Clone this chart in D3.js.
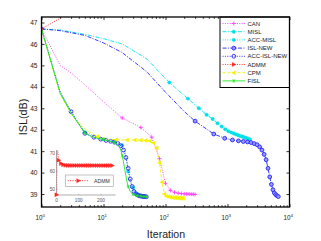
<!DOCTYPE html>
<html><head><meta charset="utf-8">
<script src="https://cdn.jsdelivr.net/npm/d3@7"></script>
<style>body{margin:0;background:#fff}svg{display:block;font-family:"Liberation Sans",Arial,sans-serif}</style>
</head><body><svg id="c" width="321" height="241"></svg>
<script>
// ---------- data ----------
const xTickVals = [1, 10, 100, 1000, 10000];
const xTickExp = ["0", "1", "2", "3", "4"];
const yTickVals = [39, 40, 41, 42, 43, 44, 45, 46, 47];
const insetXTicks = [0, 100, 200];
const insetYTicks = [50, 60, 70];

const canIter = [1, 2, 3, 5, 10, 20, 40, 60, 80, 100, 120, 140, 160, 180, 200, 220, 240, 260, 280, 300];
const canVal  = [46.7, 45.0, 44.65, 44.1, 43.3, 42.55, 42.1, 41.65, 40.65, 39.5, 39.17, 39.08, 39.04, 39.02, 39.01, 39.0, 39.0, 38.99, 38.99, 38.98];

const mislIter = [1, 2, 5, 10, 20, 50, 115, 230, 345, 460, 575, 690, 805, 920, 1035, 1150, 1265, 1380, 1495, 1610, 1725, 1840, 1955, 2070, 2185, 2300];
const mislVal  = [46.7, 46.65, 46.45, 46.25, 46.0, 45.3, 44.2, 43.45, 43.0, 42.7, 42.5, 42.3, 42.15, 42.02, 41.93, 41.87, 41.82, 41.78, 41.74, 41.71, 41.68, 41.65, 41.62, 41.6, 41.57, 41.55];

const accMislIter = [1, 2, 3, 5, 10, 15, 20, 22, 24, 25, 27, 30, 32, 35, 40, 45];
const accMislVal  = [46.7, 43.75, 42.85, 41.88, 41.56, 41.44, 41.28, 41.05, 40.45, 40.05, 39.55, 39.3, 39.12, 39.0, 38.93, 38.9];

const islNewIter = [1, 2, 5, 10, 20, 50, 100, 200, 300, 600, 900, 1200, 1500, 1800, 2100, 2400, 2700, 3000, 3300, 3600, 3900, 4200, 4500, 4800, 5100, 5400, 5700, 6000, 6300, 6600];
const islNewVal  = [46.7, 46.62, 46.4, 46.05, 45.6, 44.7, 43.75, 42.85, 42.4, 41.8, 41.6, 41.52, 41.48, 41.45, 41.43, 41.4, 41.35, 41.3, 41.2, 41.05, 40.85, 40.6, 40.2, 39.8, 39.45, 39.2, 39.05, 38.97, 38.92, 38.88];

const accIslNewIter = [1, 2, 3, 5, 7, 9, 11, 13, 15, 17, 19, 21, 23, 25, 27, 29, 31, 33, 35, 37, 39, 41, 43, 45, 47, 49];
const accIslNewVal  = [46.7, 43.75, 42.84, 41.83, 41.65, 41.56, 41.5, 41.46, 41.42, 41.36, 41.25, 41.05, 40.7, 40.2, 39.7, 39.35, 39.12, 39.02, 38.96, 38.93, 38.91, 38.9, 38.89, 38.88, 38.88, 38.87];

const admmIter = [0, 1, 2, 10, 20, 30, 40, 50, 60, 70, 80, 90, 100, 110, 120, 130, 140, 150, 160, 170, 180, 190, 200, 210, 220, 230, 240, 250];
const admmVal  = [46.7, 47.2, 75, 66.2, 64.3, 63.6, 63.35, 63.25, 63.2, 63.2, 63.2, 63.2, 63.2, 63.2, 63.2, 63.2, 63.2, 63.2, 63.15, 63.15, 63.15, 63.15, 63.15, 63.15, 63.15, 63.15, 63.15, 63.15];

const cpmIter = [1, 2, 3, 4, 5, 6, 8, 12, 16, 24, 32, 40, 48, 56, 64, 72, 80, 88, 96, 104, 112, 120, 128, 136, 144, 152, 160, 168, 176, 184, 192];
const cpmVal  = [46.7, 43.65, 42.75, 42.3, 42.05, 41.88, 41.68, 41.56, 41.53, 41.52, 41.52, 41.51, 41.5, 41.47, 41.38, 41.15, 40.45, 39.55, 39.0, 38.9, 38.87, 38.85, 38.84, 38.83, 38.83, 38.82, 38.82, 38.81, 38.81, 38.8, 38.8];

const fislIter = [1, 2, 3, 4, 5, 6, 7, 8, 10, 12, 15, 17, 18, 19, 20, 21, 22, 23, 24, 25, 27, 30, 35, 40, 45, 50];
const fislVal  = [46.7, 43.7, 42.78, 42.25, 41.85, 41.72, 41.65, 41.6, 41.54, 41.48, 41.4, 41.3, 41.2, 41.05, 40.8, 40.5, 40.15, 39.85, 39.55, 39.35, 39.12, 38.98, 38.92, 38.9, 38.88, 38.87];

// ---------- setup ----------
const svg = d3.select("#c");
const L = 41.5, R = 289.5, T = 17, B = 207;
const x = d3.scaleLog().domain([1, 1e4]).range([L, R]);
const y = d3.scaleLinear().domain([38.395, 47.257]).range([B, T]);

const series = [
  {name: "CAN", it: canIter, v: canVal, color: "#ff3cff", dash: "1,1.4", marker: "plus", every: 20, off: 0},
  {name: "MISL", it: mislIter, v: mislVal, color: "#00e0e8", dash: "4,1.4,1,1.4", marker: "dot", every: 115, off: 0},
  {name: "ACC-MISL", it: accMislIter, v: accMislVal, color: "#00e0e8", dash: "1,1.4", marker: "dot", every: 5, off: 0},
  {name: "ISL-NEW", it: islNewIter, v: islNewVal, color: "#2626ff", dash: "4,1.4,1,1.4", marker: "ringf", every: 300, off: 0},
  {name: "ACC-ISL-NEW", it: accIslNewIter, v: accIslNewVal, color: "#2626ff", dash: "1,1.4", marker: "ring", every: 2, off: 1},
  {name: "ADMM", it: admmIter.map(k => k + 1), v: admmVal, color: "#ff2020", dash: "1,1.4", marker: "trir", every: 10, off: 1},
  {name: "CPM", it: cpmIter, v: cpmVal, color: "#f2f200", dash: "3,2", marker: "tril", every: 8, off: 0},
  {name: "FISL", it: fislIter, v: fislVal, color: "#1ee61e", dash: null, marker: "star", every: 5, off: 0}
];

function drawMarker(g, type, color, cx, cy) {
  if (type === "plus") {
    g.append("path").attr("d", `M${cx-2},${cy}H${cx+2}M${cx},${cy-2}V${cy+2}`)
      .attr("stroke", color).attr("stroke-width", 0.9).attr("fill", "none");
  } else if (type === "dot") {
    g.append("circle").attr("cx", cx).attr("cy", cy).attr("r", 1.7)
      .attr("fill", color).attr("stroke", color).attr("stroke-width", 0.4);
  } else if (type === "ring") {
    g.append("circle").attr("cx", cx).attr("cy", cy).attr("r", 1.9)
      .attr("fill", "none").attr("stroke", color).attr("stroke-width", 0.9);
  } else if (type === "ringf") {
    g.append("circle").attr("cx", cx).attr("cy", cy).attr("r", 1.9)
      .attr("fill", "#9a9aff").attr("stroke", color).attr("stroke-width", 0.9);
  } else if (type === "trir") {
    g.append("path").attr("d", `M${cx+2.2},${cy}L${cx-1.6},${cy-2}L${cx-1.6},${cy+2}Z`)
      .attr("fill", color).attr("stroke", color).attr("stroke-width", 0.4);
  } else if (type === "tril") {
    g.append("path").attr("d", `M${cx-2.2},${cy}L${cx+1.6},${cy-2}L${cx+1.6},${cy+2}Z`)
      .attr("fill", color).attr("stroke", color).attr("stroke-width", 0.4);
  } else if (type === "star") {
    g.append("path").attr("d", `M${cx-1.4},${cy-1.4}L${cx+1.4},${cy+1.4}M${cx-1.4},${cy+1.4}L${cx+1.4},${cy-1.4}M${cx},${cy-1.7}V${cy+1.7}`)
      .attr("stroke", color).attr("stroke-width", 0.7).attr("fill", "none");
  }
}

// clip
const defs = svg.append("defs");
defs.append("clipPath").attr("id", "clipMain").append("rect")
  .attr("x", L).attr("y", T).attr("width", R - L).attr("height", B - T);

const plot = svg.append("g").attr("clip-path", "url(#clipMain)");
const line = d3.line().x(d => x(d[0])).y(d => y(d[1]));

series.forEach(s => {
  const pts = s.it.map((t, i) => [t, s.v[i]]);
  const p = plot.append("path").datum(pts).attr("d", line)
    .attr("fill", "none").attr("stroke", s.color).attr("stroke-width", 0.9);
  if (s.dash) p.attr("stroke-dasharray", s.dash);
  const mg = plot.append("g");
  pts.forEach(d => {
    if ((d[0] - s.off) % s.every === 0) drawMarker(mg, s.marker, s.color, x(d[0]), y(d[1]));
  });
});

// ---------- axes ----------
const minorTicks = [];
for (let e = 0; e < 4; e++) for (let m = 2; m <= 9; m++) minorTicks.push(m * Math.pow(10, e));

function styleAxis(g) {
  g.select(".domain").remove();
  g.selectAll("line").attr("stroke", "#000").attr("stroke-width", 0.8);
}
svg.append("g").attr("transform", `translate(0,${B})`)
  .call(d3.axisBottom(x).tickValues(xTickVals).tickSizeInner(-3).tickSizeOuter(0).tickFormat(""))
  .call(styleAxis);
svg.append("g").attr("transform", `translate(0,${B})`)
  .call(d3.axisBottom(x).tickValues(minorTicks).tickSizeInner(-1.8).tickSizeOuter(0).tickFormat(""))
  .call(styleAxis);
svg.append("g").attr("transform", `translate(0,${T})`)
  .call(d3.axisTop(x).tickValues(xTickVals).tickSizeInner(-3).tickSizeOuter(0).tickFormat(""))
  .call(styleAxis);
svg.append("g").attr("transform", `translate(0,${T})`)
  .call(d3.axisTop(x).tickValues(minorTicks).tickSizeInner(-1.8).tickSizeOuter(0).tickFormat(""))
  .call(styleAxis);

const yAxL = svg.append("g").attr("transform", `translate(${L},0)`)
  .call(d3.axisLeft(y).tickValues(yTickVals).tickSizeInner(-3).tickSizeOuter(0).tickPadding(4).tickFormat(d3.format("d")))
  .call(styleAxis);
yAxL.selectAll("text").attr("font-size", 6.6).attr("fill", "#222")
  .attr("font-family", "Liberation Sans, Arial, sans-serif");
svg.append("g").attr("transform", `translate(${R},0)`)
  .call(d3.axisRight(y).tickValues(yTickVals).tickSizeInner(-3).tickSizeOuter(0).tickFormat(""))
  .call(styleAxis);

// x tick labels 10^n
xTickVals.forEach((t, i) => {
  const tx = svg.append("text").attr("x", x(t) - 1.2).attr("y", 219.5)
    .attr("text-anchor", "middle").attr("font-size", 6.3).attr("fill", "#222");
  tx.append("tspan").text("10");
  tx.append("tspan").attr("dy", -3).attr("font-size", 4.4).text(xTickExp[i]);
});

// axis titles
svg.append("text").attr("x", 166).attr("y", 237.5).attr("text-anchor", "middle")
  .attr("font-size", 10.6).attr("fill", "#222").text("Iteration");
svg.append("text").attr("transform", "translate(26.5,117) rotate(-90)").attr("text-anchor", "middle")
  .attr("font-size", 10.8).attr("fill", "#222").text("ISL(dB)");

// ---------- legend ----------
const lg = svg.append("g");
lg.append("rect").attr("x", 220).attr("y", T).attr("width", R - 220).attr("height", 70.5)
  .attr("fill", "#fff").attr("stroke", "#000").attr("stroke-width", 1);
series.forEach((s, i) => {
  const ly = 23.5 + i * 8.2;
  const ln = lg.append("line").attr("x1", 222.5).attr("x2", 245).attr("y1", ly).attr("y2", ly)
    .attr("stroke", s.color).attr("stroke-width", 0.9);
  if (s.dash) ln.attr("stroke-dasharray", s.dash);
  drawMarker(lg, s.marker, s.color, 233.8, ly);
  lg.append("text").attr("x", 247.5).attr("y", ly).attr("dy", "0.35em")
    .attr("font-size", 6).attr("fill", "#222").text(s.name);
});

// main frame
svg.append("rect").attr("x", L).attr("y", T).attr("width", R - L).attr("height", B - T)
  .attr("fill", "none").attr("stroke", "#000").attr("stroke-width", 1.3);

// ---------- inset ----------
const iL = 56.5, iR = 115.5, iT = 150, iB = 195;
const xi = d3.scaleLinear().domain([0, 265]).range([iL, iR]);
const yi = d3.scaleLinear().domain([46.6, 71.9]).range([iB, iT]);
defs.append("clipPath").attr("id", "clipInset").append("rect")
  .attr("x", iL).attr("y", iT).attr("width", iR - iL).attr("height", iB - iT);

const ins = svg.append("g");
ins.append("line").attr("x1", iL).attr("x2", iL).attr("y1", iT).attr("y2", iB).attr("stroke", "#999").attr("stroke-width", 0.8);
ins.append("line").attr("x1", iL).attr("x2", iR).attr("y1", iB).attr("y2", iB).attr("stroke", "#999").attr("stroke-width", 0.8);
insetXTicks.forEach(t => {
  ins.append("line").attr("x1", xi(t)).attr("x2", xi(t)).attr("y1", iB).attr("y2", iB - 1.3).attr("stroke", "#999").attr("stroke-width", 0.6);
  ins.append("text").attr("x", xi(t)).attr("y", 201.5).attr("text-anchor", "middle")
    .attr("font-size", 4.8).attr("fill", "#555").text(t);
});
insetYTicks.forEach(t => {
  ins.append("line").attr("x1", iL).attr("x2", iL + 1.3).attr("y1", yi(t)).attr("y2", yi(t)).attr("stroke", "#999").attr("stroke-width", 0.6);
  ins.append("text").attr("x", iL - 1.5).attr("y", yi(t)).attr("dy", "0.35em").attr("text-anchor", "end")
    .attr("font-size", 4.8).attr("fill", "#555").text(t);
});
const admmPts = admmIter.map((k, i) => [k, admmVal[i]]);
const ip = ins.append("g").attr("clip-path", "url(#clipInset)");
ip.append("path").datum(admmPts)
  .attr("d", d3.line().x(d => xi(d[0])).y(d => yi(d[1])))
  .attr("fill", "none").attr("stroke", "#ff2020").attr("stroke-width", 0.9).attr("stroke-dasharray", "1,1.4");
const imk = ins.append("g");
admmPts.forEach(d => {
  if (d[0] % 10 === 0 && yi(d[1]) >= iT) drawMarker(imk, "trir", "#ff2020", xi(d[0]), yi(d[1]));
});
// inset legend
ins.append("rect").attr("x", 65.3).attr("y", 175).attr("width", 48).attr("height", 11.5)
  .attr("fill", "#fff").attr("stroke", "#aaa").attr("stroke-width", 0.7);
ins.append("line").attr("x1", 67.7).attr("x2", 88.3).attr("y1", 180.7).attr("y2", 180.7)
  .attr("stroke", "#ff2020").attr("stroke-width", 0.9).attr("stroke-dasharray", "1,1.4");
drawMarker(ins, "trir", "#ff2020", 78.3, 180.7);
ins.append("text").attr("x", 94).attr("y", 180.7).attr("dy", "0.35em")
  .attr("font-size", 5.2).attr("fill", "#333").text("ADMM");
</script></body></html>
